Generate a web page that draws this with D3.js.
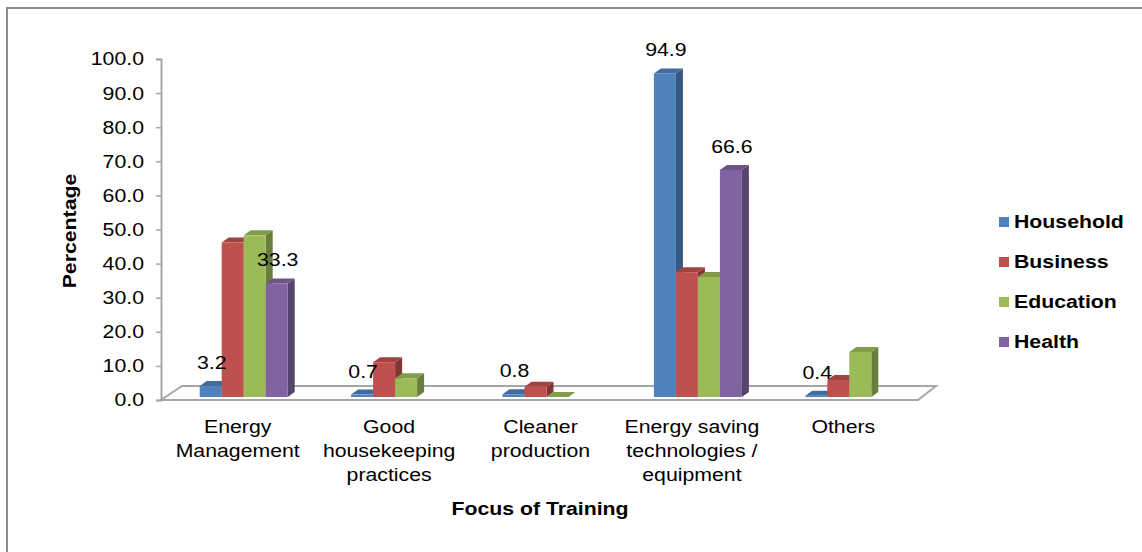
<!DOCTYPE html>
<html>
<head>
<meta charset="utf-8">
<script src="https://cdn.jsdelivr.net/npm/d3@7"></script>
<style>
  body { margin: 0; background: #fff; }
  text { font-family: "Liberation Sans", Arial, sans-serif; }
</style>
</head>
<body>
<div id="chart"></div>
<script>
var w = 1142;
var h = 552;

var categories = [["Energy", "Management"], ["Good", "housekeeping", "practices"], ["Cleaner", "production"], ["Energy saving", "technologies /", "equipment"], ["Others"]];
var series = ["Household", "Business", "Education", "Health"];
var household = [3.2, 0.7, 0.8, 94.9, 0.4];
var business = [45.3, 10.2, 3.0, 36.6, 5.0];
var education = [47.4, 5.5, 0.0, 35.2, 13.2];
var health = [33.3, null, null, 66.6, null];
var yTicks = [0, 10, 20, 30, 40, 50, 60, 70, 80, 90, 100];
var labelled = [true, false, false, true]; // Household and Health carry labels

var colors = ["#4F81BD", "#C0504D", "#9BBB59", "#8064A2"];
var values = [household, business, education, health];
var fs = 18.5, stretch = 1.15;

var svg = d3.select("#chart").append("svg").attr("width", w).attr("height", h);

function addText(x, y, str, bold, anchor, rot) {
  var t = svg.append("text")
    .attr("transform", "translate(" + x + "," + y + ")" + (rot ? " rotate(" + rot + ")" : "") + " scale(" + stretch + ",1)")
    .attr("text-anchor", anchor || "start")
    .attr("font-size", fs)
    .attr("fill", "#000")
    .text(str);
  if (bold) t.attr("font-weight", "bold");
  return t;
}

// outer border
svg.append("rect").attr("x", 7).attr("y", 8).attr("width", w).attr("height", h)
  .attr("fill", "none").attr("stroke", "#8c8c8c").attr("stroke-width", 2);

var x0 = 161, x1 = 918, yBase = 400, yTop = 59;
var depthX = 21, depthY = 14;

var y = d3.scaleLinear().domain([0, 100]).range([yBase, yTop]);
var yb = d3.scaleLinear().domain([0, 100]).range([yBase - 3, yTop - 3]);
var xc = d3.scaleBand().domain(d3.range(categories.length)).range([x0, x1]);
var xs = d3.scaleBand().domain(d3.range(series.length)).range([0, 88]);

// floor
svg.append("path")
  .attr("d", "M" + x0 + "," + yBase + "L" + (x0 + depthX) + "," + (yBase - depthY) +
    "L" + (x1 + depthX - 3) + "," + (yBase - depthY) + "L" + x1 + "," + yBase + "Z")
  .attr("fill", "#fff").attr("stroke", "#a6a6a6").attr("stroke-width", 2);

// y axis
var yAxis = svg.append("g").attr("transform", "translate(" + x0 + ",0)")
  .call(d3.axisLeft(y).tickValues(yTicks).tickFormat(d3.format(".1f")).tickSize(5).tickPadding(0));
yAxis.select(".domain").attr("stroke", "#a6a6a6").attr("stroke-width", 2);
yAxis.selectAll(".tick line").attr("stroke", "#a6a6a6").attr("stroke-width", 1.5);
yAxis.selectAll(".tick text").attr("font-size", fs).attr("fill", "#000")
  .attr("font-family", "Liberation Sans, Arial, sans-serif")
  .attr("x", 0).attr("transform", "translate(-17,0) scale(" + stretch + ",1)");

var dx = 7, dy = 5;

function shade(col, k) {
  return d3.color(col).darker(k).toString();
}

for (var s = 0; s < series.length; s++) {
  for (var c = 0; c < categories.length; c++) {
    var v = values[s][c];
    if (v === null) continue;
    var bx = xc(c) + xc.bandwidth() / 2 - 37 + xs(s);
    var bw = xs.bandwidth();
    var yt = yb(v), y0 = yb(0);
    var g = svg.append("g");
    // side
    g.append("path")
      .attr("d", "M" + (bx + bw) + "," + y0 + "L" + (bx + bw + dx) + "," + (y0 - dy) +
        "L" + (bx + bw + dx) + "," + (yt - dy) + "L" + (bx + bw) + "," + yt + "Z")
      .attr("fill", shade(colors[s], 1.1));
    // top
    g.append("path")
      .attr("d", "M" + bx + "," + yt + "L" + (bx + dx) + "," + (yt - dy) +
        "L" + (bx + bw + dx) + "," + (yt - dy) + "L" + (bx + bw) + "," + yt + "Z")
      .attr("fill", shade(colors[s], 0.5));
    // front
    g.append("rect").attr("x", bx).attr("y", yt).attr("width", bw).attr("height", y0 - yt)
      .attr("fill", colors[s]);
  }
}

// data labels drawn above all bars
for (var s2 = 0; s2 < series.length; s2++) {
  if (!labelled[s2]) continue;
  for (var c2 = 0; c2 < categories.length; c2++) {
    var v2 = values[s2][c2];
    if (v2 === null) continue;
    var lx = xc(c2) + xc.bandwidth() / 2 - 37 + xs(s2) + xs.bandwidth() / 2 + 1;
    addText(lx, yb(v2) - 17, d3.format(".1f")(v2), false, "middle");
  }
}

// category labels
categories.forEach(function(lines, i) {
  lines.forEach(function(l, j) {
    addText(xc(i) + xc.bandwidth() / 2 + 1, 433 + j * 24, l, false, "middle");
  });
});

// axis titles
addText(540, 515, "Focus of Training", true, "middle");
addText(76, 231, "Percentage", true, "middle", -90);

// legend
series.forEach(function(name, i) {
  var ly = 222 + i * 40;
  svg.append("rect").attr("x", 999).attr("y", ly - 5).attr("width", 10).attr("height", 10)
    .attr("fill", colors[i]);
  addText(1014, ly + 6, name, true, "start");
});
</script>
</body>
</html>
